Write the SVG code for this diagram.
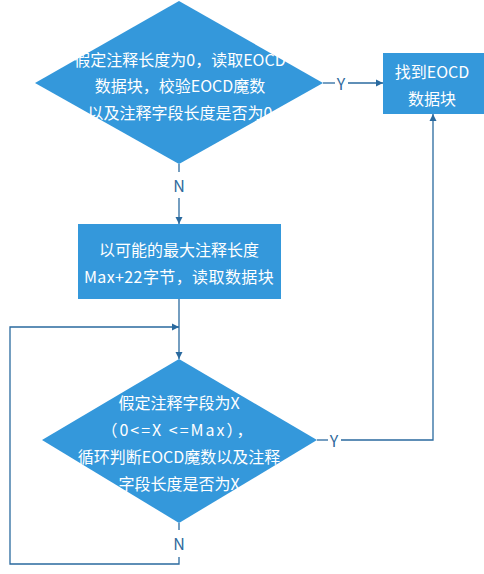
<svg xmlns="http://www.w3.org/2000/svg" width="484" height="574" viewBox="0 0 484 574">
<style>
.node{fill:#3498db;}
.t{font-family:"Noto Sans CJK SC","Microsoft YaHei",sans-serif;font-size:16px;fill:#ffffff;text-anchor:middle;dominant-baseline:central;}
.lbl{font-family:"Noto Sans CJK SC","Liberation Sans",sans-serif;font-size:16px;fill:#2f6a9c;text-anchor:middle;dominant-baseline:central;}
.c{fill:none;stroke:#2a6a9f;stroke-width:1.3;}
</style>
<defs>
<marker id="ah" markerWidth="8" markerHeight="8" refX="7" refY="4" orient="auto" markerUnits="userSpaceOnUse">
<path d="M0,0.5 L7,4 L0,7.5 Z" fill="#2a6a9f"/>
</marker>
</defs>
<rect width="484" height="574" fill="#ffffff"/>
<g id="connectors">
<path class="c" d="M323,83 H335"/>
<path class="c" d="M348,83 H383" marker-end="url(#ah)"/>
<path class="c" d="M179,164 V172"/>
<path class="c" d="M179,198 V224" marker-end="url(#ah)"/>
<path class="c" d="M179,299 V359" marker-end="url(#ah)"/>
<path class="c" d="M317,440 H328"/>
<path class="c" d="M341,440 H433 V114" marker-end="url(#ah)"/>
<path class="c" d="M179,523 V530"/>
<path class="c" d="M179,557 V564 H10 V327 H179" marker-end="url(#ah)"/>
</g>
<g id="labels">
<text class="lbl" x="341" y="83">Y</text>
<text class="lbl" x="179" y="185">N</text>
<text class="lbl" x="334" y="440">Y</text>
<text class="lbl" x="179" y="543">N</text>
</g>
<g id="decision1">
<polygon class="node" points="179,1 323,83 179,164 35,83"/>
<text class="t" x="180" y="59">假定注释长度为0，读取EOCD</text>
<text class="t" x="180" y="85">数据块，校验EOCD魔数</text>
<text class="t" x="180" y="112">以及注释字段长度是否为0</text>
</g>
<g id="found">
<rect class="node" x="383" y="53" width="101" height="61"/>
<text class="t" x="432" y="71">找到EOCD</text>
<text class="t" x="432" y="98">数据块</text>
</g>
<g id="read">
<rect class="node" x="78" y="224" width="203" height="75"/>
<text class="t" x="179" y="249">以可能的最大注释长度</text>
<text class="t" x="179" y="276" letter-spacing="0.4">Max+22字节，读取数据块</text>
</g>
<g id="decision2">
<polygon class="node" points="179,359 317,440 179,523 42,440"/>
<text class="t" x="179" y="402">假定注释字段为X</text>
<text class="t" x="178" y="429" letter-spacing="2">（0&lt;=X &lt;=Max），</text>
<text class="t" x="179" y="456">循环判断EOCD魔数以及注释</text>
<text class="t" x="179" y="483">字段长度是否为X</text>
</g>
</svg>
